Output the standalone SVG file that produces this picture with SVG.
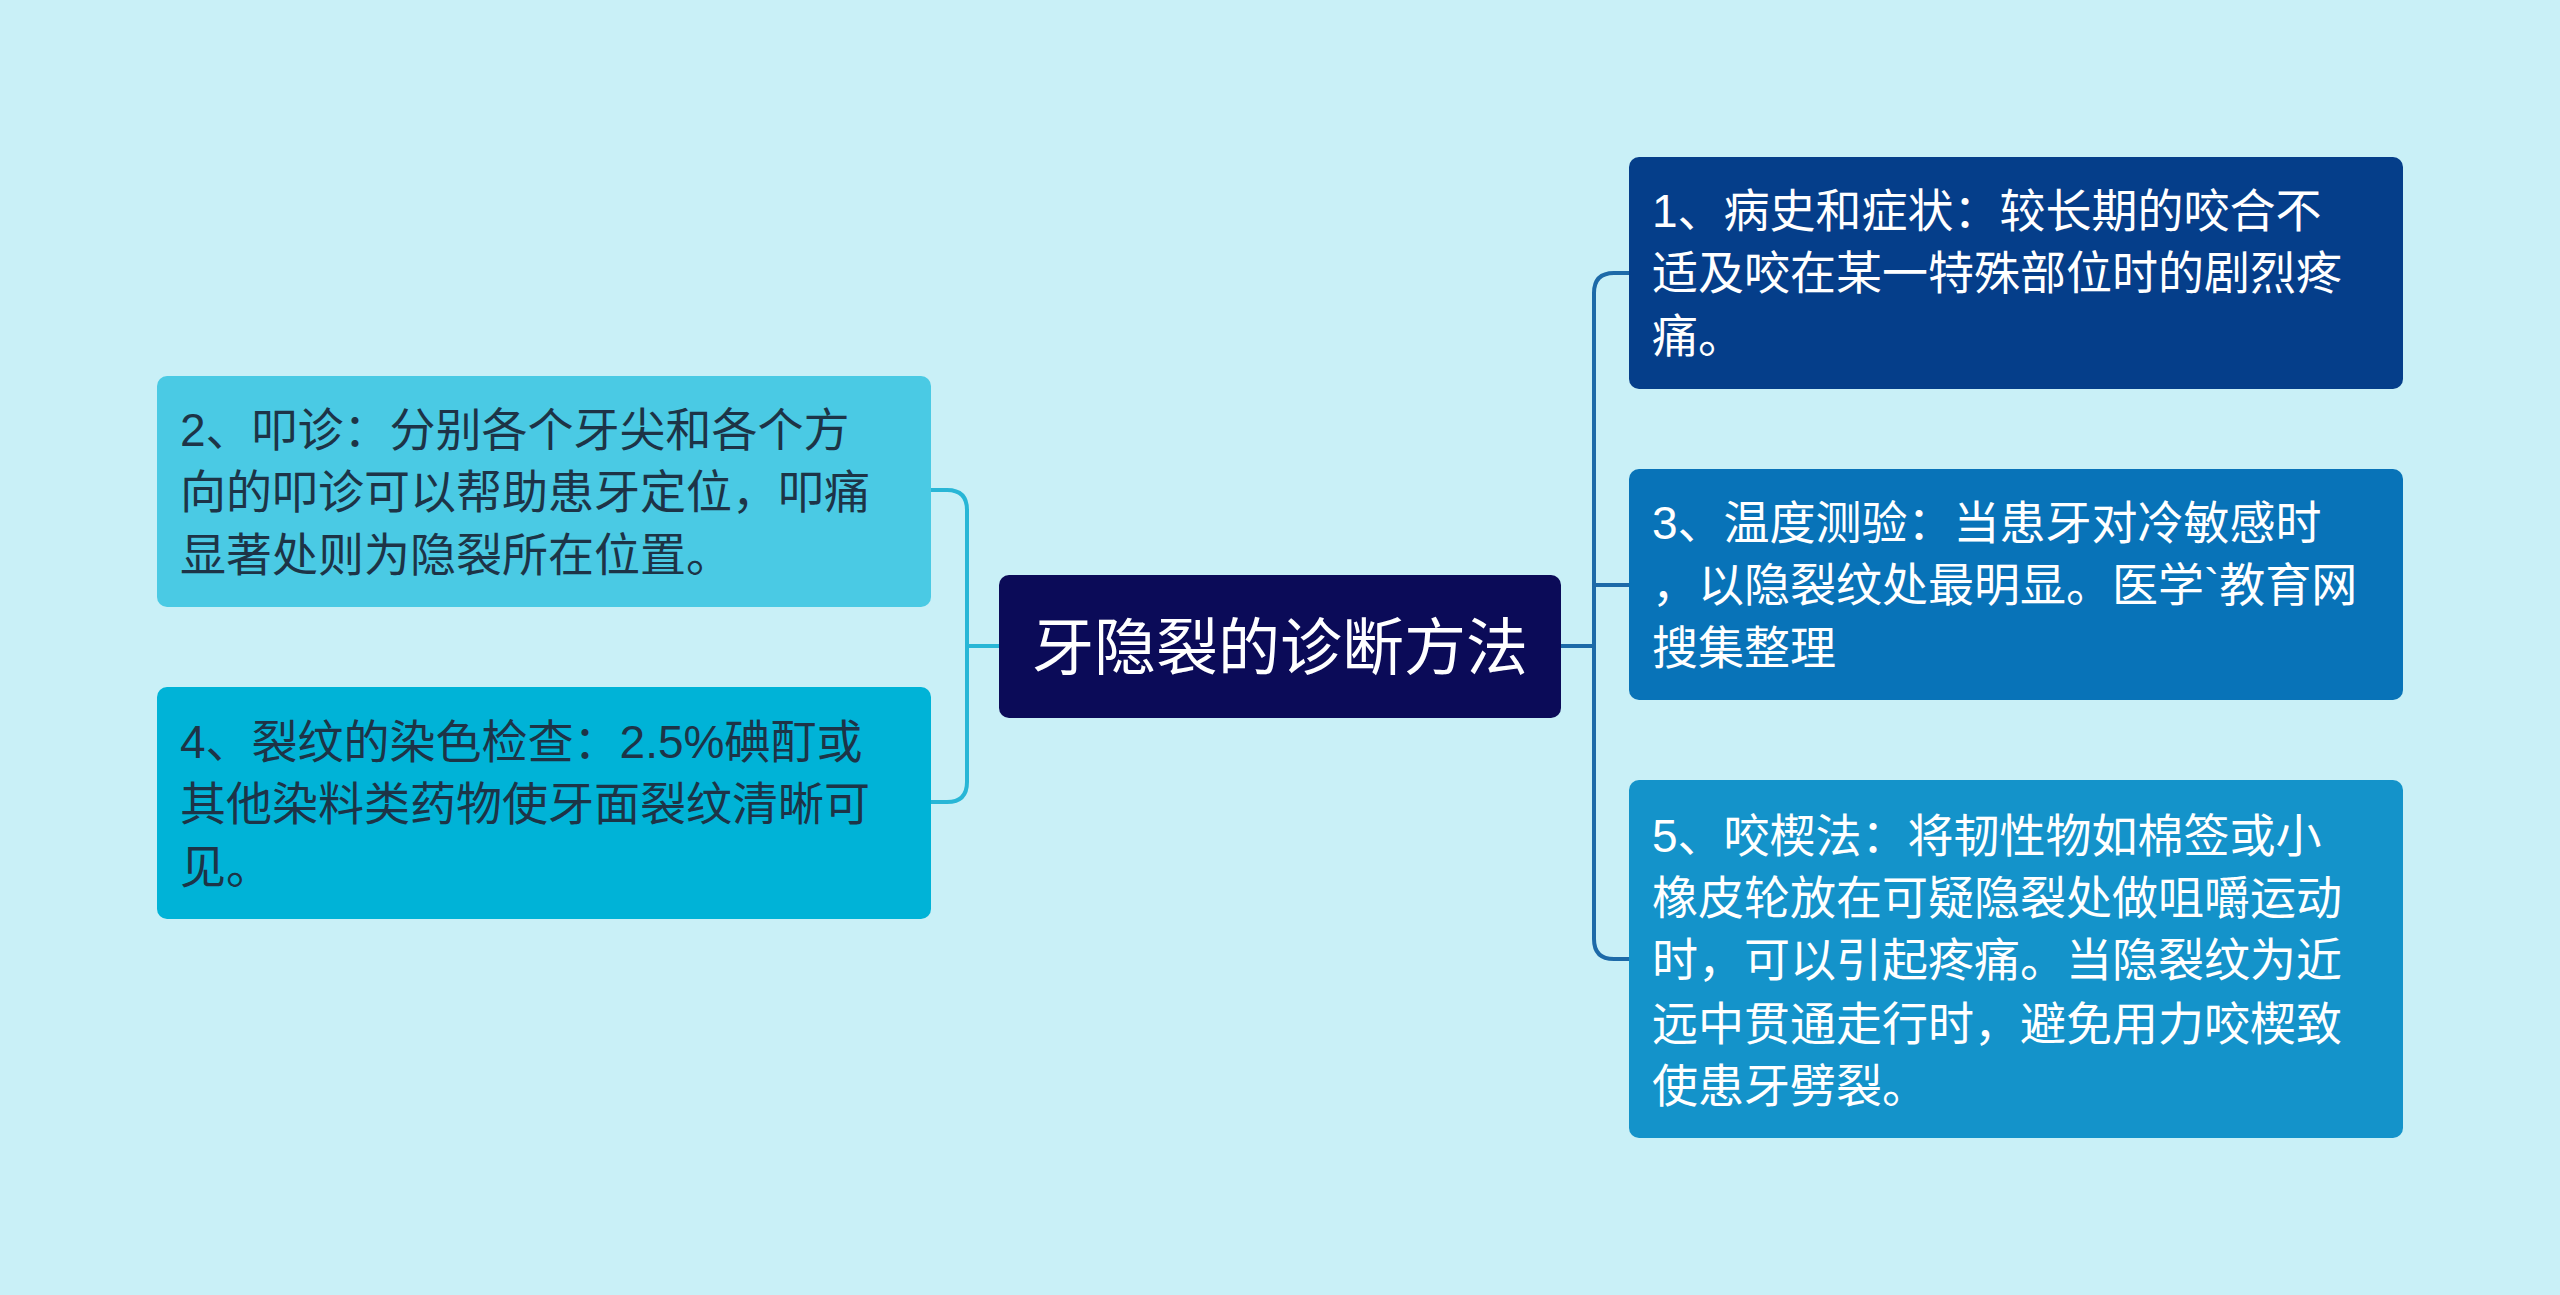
<svg xmlns="http://www.w3.org/2000/svg" width="2560" height="1295" viewBox="0 0 2560 1295">
<style>
text{font-family:"Liberation Sans","Noto Sans CJK SC",sans-serif;font-size:46px}
.w{fill:#ffffff}.d{fill:#1d3447}
.c{fill:none;stroke-width:4}
</style>
<rect width="2560" height="1295" fill="#c9f0f7"/>
<g id="connectors">
<path class="c" stroke="#28b6d6" d="M999 646H967M967 646V510Q967 490 947 490H931M967 646V782Q967 802 947 802H931"/>
<path class="c" stroke="#1d6aa8" d="M1561 646H1594M1594 646V293Q1594 273 1614 273H1629M1594 646V585H1629M1594 646V939Q1594 959 1614 959H1629"/>
</g>
<g id="center"><rect x="999" y="575" width="562" height="143" rx="10" fill="#0b0b58"/><text class="w" x="1280" y="670" text-anchor="middle" style="font-size:62px">牙隐裂的诊断方法</text></g>
<g id="n2"><rect x="157" y="376" width="774" height="231" rx="10" fill="#4acae4"/><text class="d" x="180" y="446">2、叩诊：分别各个牙尖和各个方</text><text class="d" x="180" y="508">向的叩诊可以帮助患牙定位，叩痛</text><text class="d" x="180" y="571">显著处则为隐裂所在位置。</text></g>
<g id="n4"><rect x="157" y="687" width="774" height="232" rx="10" fill="#00b3d7"/><text class="d" x="180" y="758">4、裂纹的染色检查：2.5%碘酊或</text><text class="d" x="180" y="820">其他染料类药物使牙面裂纹清晰可</text><text class="d" x="180" y="883">见。</text></g>
<g id="n1"><rect x="1629" y="157" width="774" height="232" rx="10" fill="#053e8a"/><text class="w" x="1652" y="227">1、病史和症状：较长期的咬合不</text><text class="w" x="1652" y="289">适及咬在某一特殊部位时的剧烈疼</text><text class="w" x="1652" y="352">痛。</text></g>
<g id="n3"><rect x="1629" y="469" width="774" height="231" rx="10" fill="#0873b8"/><text class="w" x="1652" y="539">3、温度测验：当患牙对冷敏感时</text><text class="w" x="1652" y="601">，以隐裂纹处最明显。医学`教育网</text><text class="w" x="1652" y="664">搜集整理</text></g>
<g id="n5"><rect x="1629" y="780" width="774" height="358" rx="10" fill="#1493ca"/><text class="w" x="1652" y="852">5、咬楔法：将韧性物如棉签或小</text><text class="w" x="1652" y="914">橡皮轮放在可疑隐裂处做咀嚼运动</text><text class="w" x="1652" y="976">时，可以引起疼痛。当隐裂纹为近</text><text class="w" x="1652" y="1040">远中贯通走行时，避免用力咬楔致</text><text class="w" x="1652" y="1102">使患牙劈裂。</text></g>
</svg>
